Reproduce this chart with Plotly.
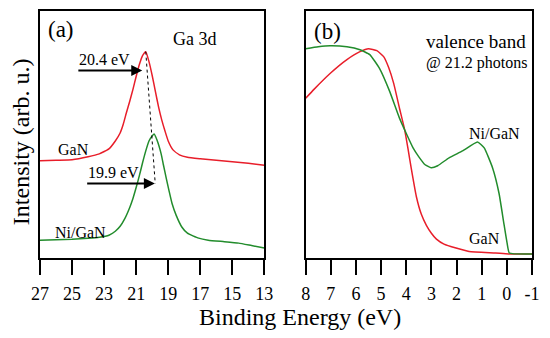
import plotly.graph_objects as go

# ---------------- data ----------------
# Panel (a): Ga 3d core level
ga_energy_gan = [27.0, 26.0, 25.0, 24.0, 23.3, 22.7, 22.3, 22.0, 21.8, 21.6, 21.4, 21.2, 21.0,
                 20.8, 20.6, 20.4, 20.2, 20.0, 19.8, 19.6, 19.4, 19.2, 19.0, 18.7, 18.3, 17.8,
                 17.0, 16.0, 15.0, 14.0, 13.0]
ga_int_gan = [98, 98.5, 99, 102, 105, 110, 118, 126, 135, 147, 158, 170, 183,
              195, 204, 208, 198, 184, 168, 152, 139, 128, 118, 109, 104, 101.5,
              100, 98.5, 97, 95.5, 93.5]

ga_energy_ni = [27.0, 26.0, 25.0, 24.0, 23.3, 22.7, 22.3, 22.0, 21.7, 21.4, 21.2, 21.0, 20.8,
                20.6, 20.4, 20.2, 20.0, 19.88, 19.7, 19.44, 19.3, 19.13, 18.95, 18.76, 18.5,
                18.14, 17.8, 17.1, 16.5, 15.5, 14.6, 13.8, 13.0]
ga_int_ni = [18, 18.5, 19, 20, 21, 23, 27, 32, 40, 51, 60, 71, 83,
             96, 108, 118, 123, 125, 119, 105, 94, 81, 68, 55, 43,
             31, 25, 20, 18, 16.5, 15, 12.5, 10]

# Panel (b): valence band
vb_energy_gan = [8.0, 7.67, 7.03, 6.36, 5.84, 5.5, 5.17, 4.9, 4.7, 4.5, 4.27, 4.07, 3.93, 3.8,
                 3.6, 3.4, 3.2, 3.0, 2.8, 2.5, 2.02, 1.5, 0.45, -0.07, -1.0]
vb_int_gan = [161, 170, 186, 200, 208, 211, 209, 203, 192, 176, 151, 130, 110, 90,
              62, 44, 33, 25, 19, 14, 10, 6.5, 5, 4, 4]

vb_energy_ni = [8.0, 7.5, 7.03, 6.36, 5.84, 5.45, 5.06, 4.66, 4.27, 3.99, 3.73, 3.5, 3.25, 3.01,
                2.75, 2.3, 1.76, 1.17, 0.9, 0.57, 0.31, 0.12, -0.01, -0.1, -1.0]
vb_int_ni = [211, 213, 214, 213, 210, 205, 191, 168, 141, 125, 111, 102, 94, 91,
             93, 101, 108, 117, 111, 91, 65, 35, 15, 5, 4]

ticks_a = [27, 25, 23, 21, 19, 17, 15, 13]
ticks_b = [8, 7, 6, 5, 4, 3, 2, 1, 0, -1]

peak_gan = 20.4
peak_ni = 19.9

RED = "rgb(232,30,42)"
GREEN = "rgb(34,140,44)"
FONT = "Times New Roman, Liberation Serif, Times, serif"

line_style = dict(width=1.5, shape="spline", smoothing=0.4)

fig = go.Figure()
fig.add_trace(go.Scatter(x=ga_energy_gan, y=ga_int_gan, mode="lines",
                         line=dict(line_style, color=RED), xaxis="x", yaxis="y", showlegend=False))
fig.add_trace(go.Scatter(x=ga_energy_ni, y=ga_int_ni, mode="lines",
                         line=dict(line_style, color=GREEN), xaxis="x", yaxis="y", showlegend=False))
fig.add_trace(go.Scatter(x=vb_energy_gan, y=vb_int_gan, mode="lines",
                         line=dict(line_style, color=RED), xaxis="x2", yaxis="y2", showlegend=False))
fig.add_trace(go.Scatter(x=vb_energy_ni, y=vb_int_ni, mode="lines",
                         line=dict(line_style, color=GREEN), xaxis="x2", yaxis="y2", showlegend=False))

axis_common = dict(showline=True, linecolor="black", linewidth=1.5, mirror=True,
                   showgrid=False, zeroline=False)
xcommon = dict(axis_common, ticks="outside", ticklen=15, tickwidth=1.5, tickcolor="black",
               tickfont=dict(family=FONT, size=18, color="black"), ticklabelstandoff=4)

fig.update_layout(
    width=550, height=338,
    margin=dict(l=40, r=13, t=9, b=80),
    paper_bgcolor="white", plot_bgcolor="white",
    font=dict(family=FONT, color="black"),
    xaxis=dict(xcommon, domain=[0, 0.456], range=[27, 13], tickvals=ticks_a,
               ticktext=[str(t) for t in ticks_a], anchor="y"),
    yaxis=dict(axis_common, range=[0, 249], showticklabels=False, ticks="", anchor="x"),
    xaxis2=dict(xcommon, domain=[0.540, 1.0], range=[8, -1], tickvals=ticks_b,
                ticktext=[str(t) for t in ticks_b], anchor="y2"),
    yaxis2=dict(axis_common, range=[0, 249], showticklabels=False, ticks="", anchor="x2"),
)

# dotted guide line between peaks
fig.add_shape(type="line", xref="x", yref="y", x0=peak_gan, y0=208, x1=peak_ni - 0.09, y1=75,
              line=dict(color="black", width=1, dash="dot"))

ann = []
# arrows
ann.append(dict(xref="x", yref="y", axref="x", ayref="y", x=20.62, y=189, ax=24.7, ay=189,
                text="", showarrow=True, arrowhead=2, arrowsize=1.1, arrowwidth=2, arrowcolor="black"))
ann.append(dict(xref="x", yref="y", axref="x", ayref="y", x=19.83, y=75, ax=24.15, ay=75,
                text="", showarrow=True, arrowhead=2, arrowsize=1.1, arrowwidth=2, arrowcolor="black"))
ann.append(dict(xref="x", yref="y", x=24.7, y=190, text=f"{peak_gan} eV", showarrow=False,
                xanchor="left", yanchor="bottom", font=dict(size=16)))
ann.append(dict(xref="x", yref="y", x=24.15, y=76, text=f"{peak_ni} eV", showarrow=False,
                xanchor="left", yanchor="bottom", font=dict(size=16)))
# panel labels
ann.append(dict(xref="x", yref="y", x=26.6, y=230, text="(a)", showarrow=False,
                xanchor="left", yanchor="middle", font=dict(size=23)))
ann.append(dict(xref="x", yref="y", x=17.3, y=221, text="Ga 3d", showarrow=False,
                xanchor="center", yanchor="middle", font=dict(size=18)))
ann.append(dict(xref="x", yref="y", x=26.0, y=109, text="GaN", showarrow=False,
                xanchor="left", yanchor="middle", font=dict(size=16)))
ann.append(dict(xref="x", yref="y", x=26.2, y=26, text="Ni/GaN", showarrow=False,
                xanchor="left", yanchor="middle", font=dict(size=16)))
ann.append(dict(xref="x2", yref="y2", x=7.75, y=228, text="(b)", showarrow=False,
                xanchor="left", yanchor="middle", font=dict(size=23)))
ann.append(dict(xref="x2", yref="y2", x=3.3, y=218, text="valence band", showarrow=False,
                xanchor="left", yanchor="middle", font=dict(size=19)))
ann.append(dict(xref="x2", yref="y2", x=3.3, y=197, text="@ 21.2 photons", showarrow=False,
                xanchor="left", yanchor="middle", font=dict(size=16)))
ann.append(dict(xref="x2", yref="y2", x=1.6, y=126, text="Ni/GaN", showarrow=False,
                xanchor="left", yanchor="middle", font=dict(size=16)))
ann.append(dict(xref="x2", yref="y2", x=1.6, y=20, text="GaN", showarrow=False,
                xanchor="left", yanchor="middle", font=dict(size=16)))
# axis titles
ann.append(dict(xref="paper", yref="paper", x=(303 - 40) / 497, y=(258 - 317) / 249,
                text="Binding Energy (eV)", showarrow=False, xanchor="center", yanchor="middle",
                font=dict(size=24)))
ann.append(dict(xref="paper", yref="paper", x=(21 - 40) / 497, y=(258 - 141) / 249,
                text="Intensity (arb. u.)", showarrow=False, xanchor="center", yanchor="middle",
                textangle=-90, font=dict(size=24)))

fig.update_layout(annotations=ann)
fig.write_html("out.html", config={"displayModeBar": False},
               post_script="document.body.style.margin='0';document.body.style.overflow='hidden';")
